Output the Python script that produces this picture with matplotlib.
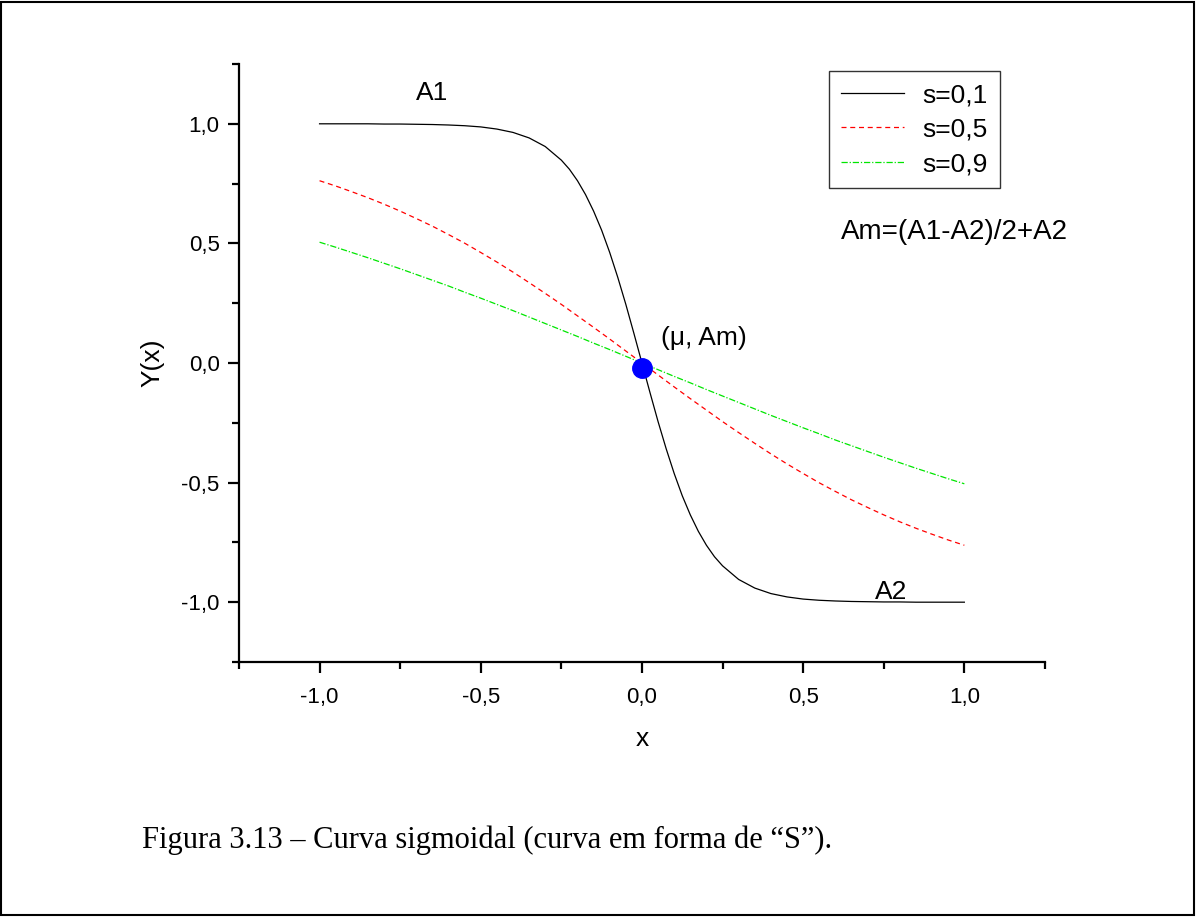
import matplotlib
matplotlib.use("Agg")
import matplotlib.pyplot as plt
from matplotlib.patches import Rectangle
from matplotlib.ticker import MultipleLocator, FuncFormatter

# values
x_s01 = [-1.0, -0.95, -0.9, -0.85, -0.8, -0.75, -0.7, -0.65, -0.6, -0.55, -0.5,
         -0.45, -0.4, -0.35, -0.3, -0.25, -0.225, -0.2, -0.175, -0.15, -0.125,
         -0.1, -0.075, -0.05, -0.025, 0.0, 0.025, 0.05, 0.075, 0.1, 0.125, 0.15,
         0.175, 0.2, 0.225, 0.25, 0.3, 0.35, 0.4, 0.45, 0.5, 0.55, 0.6, 0.65,
         0.7, 0.75, 0.8, 0.85, 0.9, 0.95, 1.0]
y_s01 = [1.0, 1.0, 1.0, 1.0, 0.999, 0.999, 0.998, 0.997, 0.995, 0.992, 0.987,
         0.978, 0.964, 0.941, 0.905, 0.848, 0.810, 0.762, 0.704, 0.635, 0.555,
         0.462, 0.358, 0.245, 0.124, 0.0, -0.124, -0.245, -0.358, -0.462, -0.555,
         -0.635, -0.704, -0.762, -0.810, -0.848, -0.905, -0.941, -0.964, -0.978,
         -0.987, -0.992, -0.995, -0.997, -0.998, -0.999, -0.999, -1.0, -1.0,
         -1.0, -1.0]

x_vals = [-1.0, -0.95, -0.9, -0.85, -0.8, -0.75, -0.7, -0.65, -0.6, -0.55, -0.5,
          -0.45, -0.4, -0.35, -0.3, -0.25, -0.2, -0.15, -0.1, -0.05, 0.0,
          0.05, 0.1, 0.15, 0.2, 0.25, 0.3, 0.35, 0.4, 0.45, 0.5,
          0.55, 0.6, 0.65, 0.7, 0.75, 0.8, 0.85, 0.9, 0.95, 1.0]
y_s05 = [0.762, 0.740, 0.716, 0.691, 0.664, 0.635, 0.604, 0.572, 0.537, 0.501,
         0.462, 0.422, 0.380, 0.336, 0.291, 0.245, 0.197, 0.149, 0.100, 0.050,
         0.0, -0.050, -0.100, -0.149, -0.197, -0.245, -0.291, -0.336, -0.380,
         -0.422, -0.462, -0.501, -0.537, -0.572, -0.604, -0.635, -0.664, -0.691,
         -0.716, -0.740, -0.762]
y_s09 = [0.505, 0.484, 0.462, 0.440, 0.417, 0.394, 0.370, 0.346, 0.322, 0.296,
         0.271, 0.245, 0.219, 0.192, 0.165, 0.138, 0.111, 0.083, 0.056, 0.028,
         0.0, -0.028, -0.056, -0.083, -0.111, -0.138, -0.165, -0.192, -0.219,
         -0.245, -0.271, -0.296, -0.322, -0.346, -0.370, -0.394, -0.417, -0.440,
         -0.462, -0.484, -0.505]
labels = ["s=0,1", "s=0,5", "s=0,9"]
mid_x, mid_y = 0.0, -0.02

plt.rcParams['font.family'] = ['Liberation Sans', 'DejaVu Sans']

fig = plt.figure(figsize=(11.96, 9.17), dpi=100)
ax = fig.add_axes([0.1998, 0.2781, 0.6739, 0.6521])

ax.plot(x_s01, y_s01, color='black', lw=0.9, label=labels[0])
ax.plot(x_vals, y_s05, color='red', lw=0.9, dashes=(4, 3), label=labels[1])
ax.plot(x_vals, y_s09, color='#00e600', lw=0.9, dashes=(5, 1.5, 1, 1.5), label=labels[2])
ax.plot([mid_x], [mid_y], 'o', color='#0000ff', ms=14, zorder=5)

ax.set_xlim(-1.25, 1.25)
ax.set_ylim(-1.25, 1.25)
for side in ['top', 'right']:
    ax.spines[side].set_visible(False)
for side in ['left', 'bottom']:
    ax.spines[side].set_linewidth(1.6)

comma = FuncFormatter(lambda v, p: "{:.1f}".format(v).replace('.', ','))
ax.xaxis.set_minor_locator(MultipleLocator(0.25))
ax.yaxis.set_minor_locator(MultipleLocator(0.25))
ax.set_xticks([-1.0, -0.5, 0.0, 0.5, 1.0])
ax.set_yticks([-1.0, -0.5, 0.0, 0.5, 1.0])
ax.xaxis.set_major_formatter(comma)
ax.yaxis.set_major_formatter(comma)
ax.tick_params(which='major', direction='out', length=8, width=1.6, labelsize=16)
ax.tick_params(axis='x', which='major', pad=10)
ax.tick_params(axis='y', which='major', pad=6)
ax.tick_params(which='minor', direction='out', length=5, width=1.6)

ax.set_xlabel('x', fontsize=19, labelpad=14)
ax.set_ylabel('Y(x)', fontsize=19, labelpad=12)

ax.text(-0.65, 1.13, 'A1', fontsize=19, ha='center', va='center')
ax.text(0.773, -0.958, 'A2', fontsize=19, ha='center', va='center')
ax.text(0.193, 0.105, '(\u03bc, Am)', fontsize=19, ha='center', va='center')
ax.text(0.969, 0.548, 'Am=(A1-A2)/2+A2', fontsize=20, ha='center', va='center')

leg = ax.legend(loc='upper right', bbox_to_anchor=(0.944, 0.988), fontsize=19,
                frameon=True, fancybox=False, handlelength=2.4,
                borderpad=0.45, labelspacing=0.4, handletextpad=0.7,
                borderaxespad=0.0)
leg.get_frame().set_edgecolor('black')
leg.get_frame().set_linewidth(1.0)

fig.text(142 / 1196, 1 - 840 / 917, 'Figura 3.13 \u2013 Curva sigmoidal (curva em forma de \u201cS\u201d).',
         fontsize=22, family='Liberation Serif', va='center', ha='left')

fig.patches.append(Rectangle((0.001, 0.002), 0.997, 0.996, transform=fig.transFigure,
                             fill=False, edgecolor='black', lw=1.5))

fig.savefig('out.png', dpi=100)
